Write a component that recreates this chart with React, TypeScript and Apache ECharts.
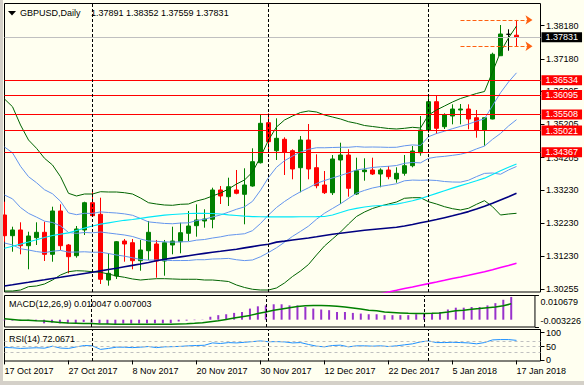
import React, { useEffect, useRef } from 'react';
import * as echarts from 'echarts';

const dates = [
  '17 Oct 2017','18 Oct 2017','19 Oct 2017','20 Oct 2017','23 Oct 2017','24 Oct 2017','25 Oct 2017','26 Oct 2017','27 Oct 2017','30 Oct 2017','31 Oct 2017',
  '1 Nov 2017','2 Nov 2017','3 Nov 2017','6 Nov 2017','7 Nov 2017','8 Nov 2017','9 Nov 2017','10 Nov 2017','13 Nov 2017','14 Nov 2017','15 Nov 2017','16 Nov 2017','17 Nov 2017','20 Nov 2017','21 Nov 2017','22 Nov 2017','23 Nov 2017','24 Nov 2017','27 Nov 2017','28 Nov 2017','29 Nov 2017','30 Nov 2017',
  '1 Dec 2017','4 Dec 2017','5 Dec 2017','6 Dec 2017','7 Dec 2017','8 Dec 2017','11 Dec 2017','12 Dec 2017','13 Dec 2017','14 Dec 2017','15 Dec 2017','18 Dec 2017','19 Dec 2017','20 Dec 2017','21 Dec 2017','22 Dec 2017','26 Dec 2017','27 Dec 2017','28 Dec 2017','29 Dec 2017',
  '2 Jan 2018','3 Jan 2018','4 Jan 2018','5 Jan 2018','8 Jan 2018','9 Jan 2018','10 Jan 2018','11 Jan 2018','12 Jan 2018','15 Jan 2018','16 Jan 2018','17 Jan 2018',
];
const padSlots = [' ', '  ', '   '];

const opens = [1.32479,1.31856,1.32028,1.31555,1.31796,1.31958,1.31296,1.32600,1.31576,1.31254,
  1.32028,1.32849,1.32500,1.30522,1.30643,1.31696,1.31645,1.31103,1.31404,1.31606,
  1.31094,1.31576,1.31675,1.31928,1.32157,1.32299,1.32350,1.33232,1.33030,1.33232,
  1.33102,1.33352,1.34053,1.35258,1.34415,1.34758,1.34415,1.33903,1.34737,1.33903,
  1.33382,1.33150,1.34135,1.34285,1.33111,1.33783,1.33834,1.33713,1.33834,1.33563,
  1.33734,1.33963,1.34354,1.35038,1.35890,1.35137,1.35459,1.35640,1.35670,1.35408,
  1.35038,1.35369,1.37274,1.37919,1.37891];
const highs = [1.32879,1.32127,1.32259,1.31976,1.32259,1.32277,1.32729,1.32801,1.31606,1.32148,
  1.32879,1.33232,1.33000,1.31326,1.31696,1.31757,1.31757,1.31727,1.32299,1.31727,
  1.31727,1.32127,1.32247,1.32600,1.32801,1.32651,1.33301,1.33352,1.33602,1.33834,
  1.33885,1.34487,1.35510,1.35540,1.35390,1.34818,1.34457,1.34857,1.35218,1.34306,
  1.33804,1.34285,1.34655,1.34457,1.34204,1.34186,1.34204,1.33885,1.33954,1.33915,
  1.34285,1.34556,1.35459,1.36070,1.36091,1.35540,1.35811,1.35820,1.35811,1.35640,
  1.35408,1.37365,1.38198,1.38069,1.38352];
const lows = [1.31675,1.31374,1.31296,1.30845,1.31576,1.31094,1.31073,1.31426,1.30724,1.31194,
  1.31877,1.32419,1.30402,1.30351,1.30553,1.31073,1.30845,1.30802,1.31125,1.30592,
  1.30652,1.31296,1.31326,1.31696,1.31826,1.32097,1.32079,1.32810,1.32750,1.33102,
  1.32199,1.33331,1.34029,1.34436,1.34135,1.33683,1.33554,1.33162,1.33554,1.33283,
  1.33111,1.33081,1.32810,1.33030,1.33081,1.33512,1.33683,1.33313,1.33554,1.33451,
  1.33662,1.33915,1.34264,1.34957,1.34917,1.35068,1.35209,1.35209,1.35059,1.34806,
  1.34565,1.35360,1.37265,1.37425,1.37559];
const closes = [1.31856,1.32028,1.31555,1.31847,1.31958,1.31296,1.32600,1.31555,1.31224,1.32058,
  1.32849,1.32458,1.30544,1.30724,1.31675,1.31606,1.31103,1.31426,1.31958,1.31094,
  1.31645,1.31696,1.31946,1.32148,1.32329,1.32359,1.33232,1.33051,1.33331,1.33132,
  1.33382,1.34084,1.35239,1.34686,1.34788,1.34376,1.33864,1.34737,1.33864,1.33361,
  1.33150,1.34165,1.34285,1.33283,1.33813,1.33834,1.33713,1.33834,1.33632,1.33734,
  1.33963,1.34406,1.35038,1.35890,1.35089,1.35489,1.35670,1.35670,1.35369,1.35038,
  1.35408,1.37317,1.37928,1.37919,1.37831];

const bbUpper2 = [1.35971,1.35739,1.35188,1.34737,1.34487,1.34186,1.33984,1.33632,1.33132,1.33051,
  1.33111,1.33111,1.33180,1.33171,1.33171,1.33150,1.33111,1.32991,1.32849,1.32810,
  1.32780,1.32771,1.32801,1.32810,1.32900,1.32961,1.33051,1.33141,1.33262,1.33412,
  1.33533,1.33773,1.34225,1.34737,1.35128,1.35339,1.35459,1.35565,1.35610,1.35580,
  1.35489,1.35429,1.35369,1.35288,1.35239,1.35173,1.35143,1.35113,1.35083,1.35068,
  1.35089,1.35119,1.35098,1.35489,1.35640,1.35760,1.35881,1.35986,1.36061,1.36137,
  1.36197,1.36784,1.37386,1.37807,1.38168];
const bbLower2 = [1.30191,1.30191,1.30221,1.30321,1.30342,1.30402,1.30522,1.30673,1.30772,1.30802,
  1.30793,1.30772,1.30754,1.30703,1.30643,1.30604,1.30553,1.30522,1.30544,1.30562,
  1.30562,1.30553,1.30544,1.30544,1.30544,1.30522,1.30522,1.30501,1.30477,1.30372,
  1.30297,1.30243,1.30221,1.30221,1.30282,1.30432,1.30628,1.30793,1.30989,1.31275,
  1.31546,1.31757,1.31967,1.32208,1.32434,1.32569,1.32675,1.32750,1.32810,1.32870,
  1.32982,1.33000,1.33000,1.32879,1.32810,1.32729,1.32669,1.32630,1.32681,1.32801,
  1.32910,1.32729,1.32479,1.32509,1.32530];
const bbMid = [1.33081,1.32965,1.32705,1.32529,1.32415,1.32294,1.32253,1.32153,1.31952,1.31927,
  1.31952,1.31942,1.31967,1.31937,1.31907,1.31877,1.31832,1.31756,1.31696,1.31686,
  1.31671,1.31662,1.31672,1.31677,1.31722,1.31741,1.31786,1.31821,1.31869,1.31892,
  1.31915,1.32008,1.32223,1.32479,1.32705,1.32885,1.33043,1.33179,1.33299,1.33427,
  1.33517,1.33593,1.33668,1.33748,1.33836,1.33871,1.33909,1.33931,1.33946,1.33969,
  1.34035,1.34060,1.34049,1.34184,1.34225,1.34245,1.34275,1.34308,1.34371,1.34469,
  1.34554,1.34757,1.34933,1.35158,1.35349];
const bbUpper1 = [1.34526,1.34352,1.33946,1.33633,1.33451,1.33240,1.33118,1.32892,1.32542,1.32489,
  1.32531,1.32526,1.32573,1.32554,1.32539,1.32513,1.32471,1.32374,1.32272,1.32248,
  1.32225,1.32216,1.32237,1.32243,1.32311,1.32351,1.32418,1.32481,1.32565,1.32652,
  1.32724,1.32890,1.33224,1.33608,1.33916,1.34112,1.34251,1.34372,1.34455,1.34504,
  1.34503,1.34511,1.34518,1.34518,1.34538,1.34522,1.34526,1.34522,1.34515,1.34518,
  1.34562,1.34589,1.34573,1.34836,1.34932,1.35002,1.35078,1.35147,1.35216,1.35303,
  1.35375,1.35770,1.36159,1.36483,1.36759];
const bbLower1 = [1.31636,1.31578,1.31463,1.31425,1.31378,1.31348,1.31387,1.31413,1.31362,1.31364,
  1.31372,1.31357,1.31360,1.31320,1.31275,1.31240,1.31192,1.31139,1.31120,1.31124,
  1.31116,1.31107,1.31108,1.31110,1.31133,1.31132,1.31154,1.31161,1.31173,1.31132,
  1.31106,1.31125,1.31222,1.31350,1.31493,1.31659,1.31836,1.31986,1.32144,1.32351,
  1.32532,1.32675,1.32817,1.32978,1.33135,1.33220,1.33292,1.33341,1.33378,1.33420,
  1.33509,1.33530,1.33524,1.33531,1.33518,1.33487,1.33472,1.33469,1.33526,1.33635,
  1.33732,1.33743,1.33706,1.33834,1.33940];
const ma50 = [1.31477,1.31537,1.31600,1.31666,1.31733,1.31802,1.31862,1.31901,1.31943,1.32013,
  1.32082,1.32148,1.32202,1.32244,1.32283,1.32320,1.32344,1.32380,1.32413,1.32443,
  1.32473,1.32494,1.32509,1.32524,1.32530,1.32530,1.32524,1.32509,1.32485,1.32464,
  1.32443,1.32430,1.32427,1.32425,1.32424,1.32424,1.32425,1.32426,1.32427,1.32429,
  1.32434,1.32479,1.32554,1.32630,1.32681,1.32720,1.32750,1.32765,1.32780,1.32804,
  1.32855,1.32907,1.32973,1.33051,1.33129,1.33208,1.33286,1.33364,1.33436,1.33509,
  1.33587,1.33698,1.33810,1.33915,1.34014];
const ma100 = [1.30342,1.30378,1.30417,1.30453,1.30492,1.30529,1.30568,1.30604,1.30643,1.30679,
  1.30718,1.30754,1.30796,1.30839,1.30878,1.30920,1.30962,1.31004,1.31049,1.31100,
  1.31146,1.31182,1.31218,1.31254,1.31290,1.31323,1.31356,1.31386,1.31420,1.31450,
  1.31489,1.31528,1.31567,1.31597,1.31663,1.31693,1.31727,1.31757,1.31787,1.31823,
  1.31862,1.31898,1.31931,1.31961,1.31991,1.32019,1.32043,1.32067,1.32088,1.32109,
  1.32148,1.32193,1.32244,1.32292,1.32341,1.32398,1.32455,1.32515,1.32581,1.32660,
  1.32741,1.32831,1.32931,1.33030,1.33132];
const ma200 = [null,null,null,null,null,null,null,null,null,null,
  null,null,null,null,null,null,null,null,null,null,
  null,null,null,null,null,null,null,null,null,null,
  null,null,null,null,null,null,null,null,null,null,
  null,null,null,null,null,null,1.30050,1.30101,1.30161,1.30212,
  1.30264,1.30312,1.30363,1.30414,1.30462,1.30513,1.30565,1.30613,1.30664,1.30718,
  1.30769,1.30832,1.30896,1.30959,1.31025];

const macdHist = [-0.0003,-0.0004,-0.0004,-0.0006,-0.0006,-0.0016,-0.0013,-0.0016,-0.0016,-0.0015,
  -0.0010,-0.0013,-0.0016,-0.0019,-0.0019,-0.0017,-0.0017,-0.0017,-0.0016,-0.0016,
  -0.0016,-0.0015,-0.0008,-0.0004,-0.0002,0.0001,0.0013,0.0020,0.0024,0.0030,
  0.0034,0.0049,0.0059,0.0063,0.0068,0.0068,0.0063,0.0063,0.0056,0.0049,
  0.0045,0.0042,0.0034,0.0034,0.0030,0.0027,0.0024,0.0024,0.0020,0.0020,
  0.0020,0.0020,0.0024,0.0027,0.0030,0.0034,0.0045,0.0053,0.0053,0.0056,
  0.0056,0.0063,0.0073,0.0088,0.010047];
const macdSignal = [0.0004,0.0001,-0.0002,-0.0003,-0.0005,-0.0006,-0.0009,-0.0012,-0.0015,-0.0016,
  -0.0017,-0.0017,-0.0019,-0.0019,-0.0020,-0.0020,-0.0020,-0.0020,-0.0020,-0.0020,
  -0.0020,-0.0020,-0.0019,-0.0018,-0.0016,-0.0013,-0.0009,-0.0005,0.0001,0.0007,
  0.0013,0.0019,0.0027,0.0034,0.0042,0.0047,0.0053,0.0058,0.0062,0.0063,
  0.0063,0.0062,0.0059,0.0056,0.0052,0.0047,0.0042,0.0039,0.0034,0.0032,
  0.0030,0.0028,0.0027,0.0027,0.0028,0.0030,0.0034,0.0039,0.0042,0.0046,
  0.0049,0.0053,0.0056,0.0062,0.007003];
const rsi = [46.6,45.5,43.1,44.3,45.5,44.0,51.2,44.3,43.1,48.8,
  53.6,52.4,39.6,43.1,47.7,47.5,46.0,47.7,50.0,46.0,
  48.8,49.5,50.5,52.4,53.6,54.5,62.9,60.8,64.0,62.9,
  65.2,67.6,70.0,67.0,67.6,66.5,62.9,64.1,57.3,51.2,
  48.8,53.6,54.8,48.8,52.4,52.4,51.2,52.4,50.0,52.4,
  56.0,59.6,66.5,70.0,64.1,64.1,65.2,64.1,62.9,59.6,
  64.1,73.7,74.9,74.9,72.0671];

const redLevels = [1.36534, 1.36095, 1.35508, 1.35021, 1.34367];
const priceTicks = [1.3818, 1.3718, 1.36205, 1.35205, 1.34205, 1.3323, 1.3223, 1.3123, 1.30255];
const macdTicks = [0.010679, 0, -0.003226];
const rsiTicks = [0, 30, 50, 70, 100];
const rsiLevels = [30, 50, 70];
const monthStarts = ['1 Nov 2017', '1 Dec 2017', '2 Jan 2018'];

const FONT = 'Liberation Sans, Arial, sans-serif';
const BG = '#fffff0';

function buildOption() {
  const last = opens.length - 1;
  const lastPrice = closes[last];
  const categories = [...dates, ...padSlots];
  const candleData = opens.map((o, i) => {
    const v = [o, closes[i], lows[i], highs[i]];
    if (o === closes[i]) {
      return { value: v, itemStyle: { color: '#000', color0: '#000', borderColor: '#000', borderColor0: '#000' } };
    }
    return v;
  });
  const sepLine = (extra: any[] = []) => ({
    silent: true, symbol: ['none', 'none'], animation: false,
    label: { show: false },
    lineStyle: { color: '#000', type: [3, 2], width: 1 },
    data: [...monthStarts.map((d) => ({ xAxis: d })), ...extra],
  });
  const line = (data: any[], color: string, width = 1, extra: any = {}) => ({
    type: 'line', xAxisIndex: 0, yAxisIndex: 0, data, symbol: 'none', showSymbol: false,
    silent: true, connectNulls: false, lineStyle: { color, width }, ...extra,
  });
  const textStyle = { fontSize: 9, fontFamily: FONT, fill: '#000' };
  const axisLbl = { margin: 5.5, fontSize: 9, color: '#000', fontFamily: FONT, hideOverlap: false, showMinLabel: true, showMaxLabel: true };
  return {
    animation: false,
    backgroundColor: BG,
    grid: [
      { left: 4.5, top: 3.5, width: 536, height: 288.5 },
      { left: 4.5, top: 295.5, width: 536, height: 31.5 },
      { left: 4.5, top: 329.5, width: 536, height: 31.5 },
    ].map((g) => ({ ...g, show: true, borderColor: '#000', borderWidth: 1, backgroundColor: 'transparent' })),
    xAxis: [0, 1, 2].map((i) => ({
      type: 'category', gridIndex: i, data: categories, boundaryGap: false,
      axisLine: { show: false },
      axisTick: { show: i === 2, interval: 7, length: 4, lineStyle: { color: '#000' } },
      axisLabel: { show: i === 2, interval: 7, align: 'left', margin: 5, color: '#000', fontSize: 9, fontFamily: FONT, hideOverlap: false },
      splitLine: { show: false },
    })),
    yAxis: [
      {
        type: 'value', gridIndex: 0, position: 'right', min: 1.30161, max: 1.38846,
        axisLine: { show: false }, splitLine: { show: false },
        axisTick: { show: true, length: 4, customValues: priceTicks, lineStyle: { color: '#000' } },
        axisLabel: { ...axisLbl, customValues: priceTicks, formatter: (v: number) => v.toFixed(5) },
      },
      {
        type: 'value', gridIndex: 1, position: 'right', min: -0.003226, max: 0.010679,
        axisLine: { show: false }, splitLine: { show: false },
        axisTick: { show: true, length: 4, customValues: macdTicks, lineStyle: { color: '#000' } },
        axisLabel: {
          ...axisLbl, customValues: macdTicks,
          formatter: (v: number) => (v > 0 ? '{t|' + v.toFixed(6) + '}' : v === 0 ? '{z|0.00}' : '{b|' + v.toFixed(6) + '}'),
          rich: {
            t: { fontSize: 9, fontFamily: FONT, color: '#000', padding: [12, 0, 0, 0] },
            z: { fontSize: 9, fontFamily: FONT, color: '#000' },
            b: { fontSize: 9, fontFamily: FONT, color: '#000', padding: [0, 0, 12, 0] },
          },
        },
      },
      {
        type: 'value', gridIndex: 2, position: 'right', min: -2, max: 111,
        axisLine: { show: false }, splitLine: { show: false },
        axisTick: { show: true, length: 4, customValues: rsiTicks, lineStyle: { color: '#000' } },
        axisLabel: { ...axisLbl, customValues: rsiTicks },
      },
    ],
    series: [
      {
        type: 'candlestick', xAxisIndex: 0, yAxisIndex: 0, data: candleData, barWidth: 4, silent: true,
        itemStyle: { color: '#008000', color0: '#ff0000', borderColor: '#008000', borderColor0: '#ff0000', borderWidth: 1 },
        markLine: {
          silent: true, symbol: ['none', 'none'], precision: 5, animation: false,
          label: {
            show: true, position: 'end', distance: 1, fontSize: 9, fontFamily: FONT, color: '#fff',
            padding: [1, 4, 0, 4], formatter: (p: any) => Number(p.value).toFixed(5),
          },
          data: [
            { yAxis: lastPrice, lineStyle: { color: '#c0c0c0', width: 1, type: 'solid' }, label: { backgroundColor: '#000' } },
            ...redLevels.map((v) => ({ yAxis: v, lineStyle: { color: '#ff0000', width: 1, type: 'solid' }, label: { backgroundColor: '#ff0000' } })),
          ],
        },
      },
      line(bbUpper2, '#006400', 1, {
        markLine: {
          silent: true, animation: false, symbol: ['none', 'arrow'], symbolSize: 7,
          label: { show: false },
          lineStyle: { color: '#ff6010', type: [4, 2], width: 1 },
          data: [
            [{ coord: [57, highs[last]] }, { coord: [66, highs[last]] }],
            [{ coord: [57, lows[last]] }, { coord: [66, lows[last]] }],
          ],
        },
      }),
      line(bbLower2, '#006400', 1),
      line(bbUpper1, '#6495ed', 1),
      line(bbMid, '#6495ed', 1, { markLine: sepLine() }),
      line(bbLower1, '#6495ed', 1),
      line(ma50, '#00e8f8', 1.2),
      line(ma100, '#000080', 1.6),
      line(ma200, '#ff00ff', 1.6),
      {
        type: 'bar', xAxisIndex: 1, yAxisIndex: 1, data: macdHist, barWidth: 2, silent: true,
        itemStyle: { color: '#9932cc' },
      },
      {
        type: 'line', xAxisIndex: 1, yAxisIndex: 1, data: macdSignal, symbol: 'none', silent: true,
        lineStyle: { color: '#008000', width: 1.5 }, markLine: sepLine(),
      },
      {
        type: 'line', xAxisIndex: 2, yAxisIndex: 2, data: rsi, symbol: 'none', silent: true,
        lineStyle: { color: '#1e90ff', width: 1 },
        markLine: sepLine(rsiLevels.map((v) => ({ yAxis: v, lineStyle: { color: '#c0c0c0', type: [3, 3], width: 1 } }))),
      },
    ],
    graphic: [
      { type: 'rect', shape: { x: 0, y: 0, width: 3, height: 385 }, style: { fill: '#d4d0c8' }, z: 100 },
      { type: 'rect', shape: { x: 0, y: 381, width: 584, height: 4 }, style: { fill: '#d4d0c8' }, z: 100 },
      { type: 'polygon', shape: { points: [[8, 11], [16, 11], [12, 15.5]] }, style: { fill: '#000' }, z: 100 },
      { type: 'text', x: 20, y: 13, z: 100, style: { ...textStyle, text: 'GBPUSD,Daily', verticalAlign: 'middle' } },
      {
        type: 'text', x: 91, y: 13, z: 100,
        style: { ...textStyle, verticalAlign: 'middle', text: [opens[last], highs[last], lows[last], closes[last]].map((v) => v.toFixed(5)).join(' ') },
      },
      {
        type: 'text', x: 9, y: 304, z: 100,
        style: { ...textStyle, verticalAlign: 'middle', text: 'MACD(12,26,9) ' + macdHist[last].toFixed(6) + ' ' + macdSignal[last].toFixed(6) },
      },
      { type: 'text', x: 9, y: 339, z: 100, style: { ...textStyle, verticalAlign: 'middle', text: 'RSI(14) ' + rsi[last].toFixed(4) } },
    ],
  };
}

export default function App() {
  const ref = useRef<HTMLDivElement>(null);
  useEffect(() => {
    document.body.style.margin = '0';
    const chart = echarts.init(ref.current!, null, { renderer: 'svg' });
    chart.setOption(buildOption() as any);
    return () => chart.dispose();
  }, []);
  return <div ref={ref} style={{ width: 584, height: 385, background: BG }} />;
}
